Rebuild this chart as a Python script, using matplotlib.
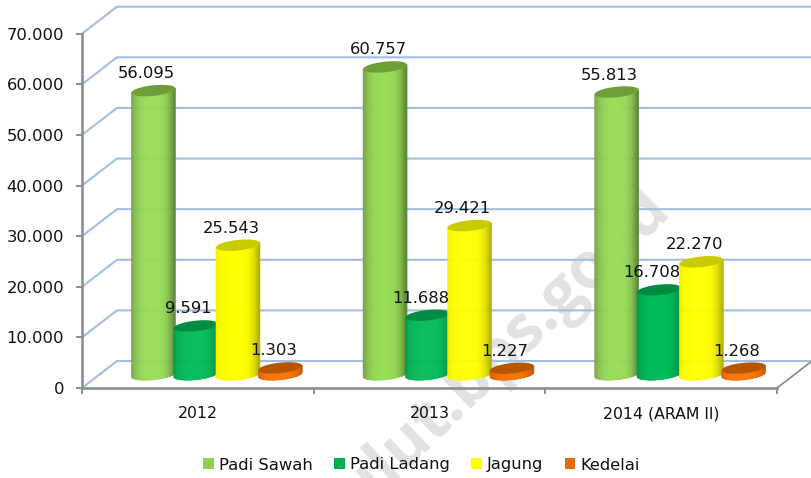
import numpy as np
import matplotlib
matplotlib.use("Agg")
import matplotlib.pyplot as plt
from matplotlib.collections import PolyCollection
from matplotlib.patches import Patch
from matplotlib.colors import to_rgb

categories = ["2012", "2013", "2014 (ARAM II)"]
series_names = ["Padi Sawah", "Padi Ladang", "Jagung", "Kedelai"]
padi_sawah = [56095, 60757, 55813]
padi_ladang = [9591, 11688, 16708]
jagung = [25543, 29421, 22270]
kedelai = [1303, 1227, 1268]
y_ticks = [0, 10000, 20000, 30000, 40000, 50000, 60000, 70000]

W, H = 811, 478
FS = 11.8
plt.rcParams["font.family"] = ["DejaVu Sans"]
fig = plt.figure(figsize=(W / 100, H / 100), dpi=100)
L, R, B, T = 82, 777, 388, 33.7
ax = fig.add_axes([L / W, (H - B) / H, (R - L) / W, (B - T) / H])
ax.patch.set_alpha(0)
ax.set_xlim(-0.5, 2.5)
ax.set_ylim(0, 70000)
pxx = (R - L) / 3.0           # pixels per category
pxy = (B - T) / 70000.0       # pixels per value unit

# wall and floor
GRID = "#A3BFDF"
AXC = "#8E8E8E"
bdx, bdy = 35 / pxx, 27 / pxy
for v in y_ticks:
    ax.plot([-0.5, -0.5 + bdx, 2.5 + bdx], [v, v + bdy, v + bdy], color=GRID, lw=1.5,
            clip_on=False, zorder=1, solid_joinstyle="miter")
ax.plot([2.5, 2.5 + bdx], [0, bdy], color=AXC, lw=1.3, clip_on=False, zorder=2)

# axes
for s in ["top", "right"]:
    ax.spines[s].set_visible(False)
for s in ["left", "bottom"]:
    ax.spines[s].set_color(AXC)
    ax.spines[s].set_linewidth(1.9)
    ax.spines[s].set_zorder(2)
ax.set_yticks(y_ticks)
ax.set_yticklabels([f"{v:,}".replace(",", ".") for v in y_ticks], fontsize=FS, color="#111111")
ax.tick_params(axis="y", length=4, width=1.4, color=AXC, pad=9)
ax.set_xticks([-0.5, 0.5, 1.5, 2.5])
ax.set_xticklabels([])
ax.set_xticks([0, 1, 2], minor=True)
ax.set_xticklabels(categories, minor=True, fontsize=FS * 0.96, color="#111111")
ax.tick_params(axis="x", which="major", length=4, width=1.4, color=AXC)
ax.tick_params(axis="x", which="minor", length=0, pad=13)

# cylinders: (centre, edge-left, edge-right, top)
styles = [
    ("#97DD55", "#7CA64A", "#5C8636", "#6F9E38"),
    ("#00BC58", "#00A04A", "#008F42", "#008C40"),
    ("#FFFF00", "#F4F400", "#B4B400", "#CACA00"),
    ("#F97400", "#D85F00", "#C85800", "#B65600"),
]
legend_cols = ["#92D050", "#00B050", "#FFFF00", "#E46C0A"]
series = [padi_sawah, padi_ladang, jagung, kedelai]
bw = 44 / pxx
step = 42.3 / pxx
ddx, ddy = 19 / pxx, 13.5 / pxy
eb, shear = 5.3 / pxy, 2.2 / pxy


def shade(t, c, l, r):
    c, l, r = map(np.array, map(to_rgb, (c, l, r)))
    e = l if t < 0 else r
    w = min(1.0, abs(t) / 0.95) ** 3.2
    return tuple(c * (1 - w) + e * w)


z = 3
for si, vals in enumerate(series):
    c, l, r, top = styles[si]
    for ci, v in enumerate(vals):
        xc = ci + ddx + (si - 1.5) * step
        ts = np.linspace(-1, 1, 45)
        polys, cols = [], []
        for t0, t1 in zip(ts[:-1], ts[1:]):
            tt = np.linspace(t0, t1, 4)
            arc = -eb * np.sqrt(1 - tt ** 2) + shear * tt
            xs = xc + tt * bw / 2
            ybot = ddy + arc
            ytop = ddy + v + arc
            polys.append(np.r_[np.c_[xs, ybot], np.c_[xs[::-1], ytop[::-1]]])
            cols.append(shade((t0 + t1) / 2, c, l, r))
        ax.add_collection(PolyCollection(polys, facecolors=cols, edgecolors=cols, linewidths=0.4,
                                         clip_on=False, zorder=z), autolim=False)
        a = np.linspace(0, 2 * np.pi, 80)
        ax.fill(xc + np.cos(a) * bw / 2, ddy + v + eb * np.sin(a) + shear * np.cos(a),
                color=top, lw=0, clip_on=False, zorder=z + 0.5)
        z += 1
        ax.annotate(f"{v:,}".replace(",", "."), (xc, ddy + v), xytext=(-7, 17),
                    textcoords="offset pixels", ha="center", va="center",
                    fontsize=FS, color="#111111", zorder=40, annotation_clip=False)

# legend
handles = [Patch(facecolor=col, edgecolor="none", label=n) for col, n in zip(legend_cols, series_names)]
fig.legend(handles=handles, loc="center", bbox_to_anchor=(421.5 / W, (H - 465) / H), ncol=4, frameon=False,
           fontsize=FS * 1.0, handlelength=0.66, handleheight=0.66, handletextpad=0.3,
           columnspacing=1.3, labelcolor="#111111", borderpad=0, borderaxespad=0)

# watermark, behind the chart
fig.text(672 / W, (H - 212) / H, "sulut.bps.go.id", rotation=44, rotation_mode="anchor",
         ha="right", va="baseline", fontsize=46, fontweight="bold", family="Open Sans",
         color="#E2E2E2", zorder=-1)

fig.savefig("out.png", dpi=100)
